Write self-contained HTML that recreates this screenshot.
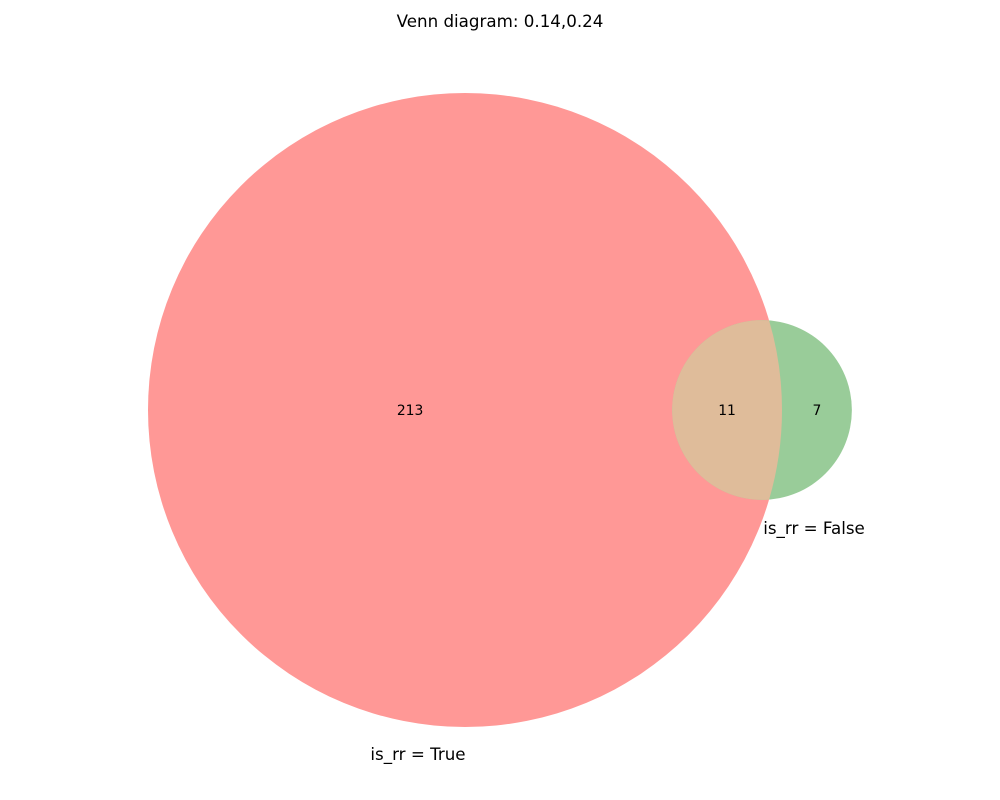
<!DOCTYPE html>
<html><head><meta charset="utf-8"><style>
html,body{margin:0;padding:0;background:#fff;}
svg{display:block;font-family:"DejaVu Sans","Liberation Sans",sans-serif;}
</style></head><body>
<svg id="chart" width="1000" height="800">
<text x="500" y="27" text-anchor="middle" font-size="16.7">Venn diagram: 0.14,0.24</text>
</svg>
<script>
const setNames = ["is_rr = True", "is_rr = False"];
const regionCounts = [213, 11, 7]; // A only, A&B, B only
const svg = document.getElementById('chart');
const NS = 'http://www.w3.org/2000/svg';
const sizeA = regionCounts[0] + regionCounts[1];
const sizeB = regionCounts[1] + regionCounts[2];
const rA = 317;
const unit = Math.PI * rA * rA / sizeA;
const rB = Math.sqrt(sizeB * unit / Math.PI);
function lens(d, r1, r2) {
  if (d >= r1 + r2) return 0;
  if (d <= Math.abs(r1 - r2)) return Math.PI * Math.min(r1, r2) ** 2;
  const a = r1*r1*Math.acos((d*d + r1*r1 - r2*r2)/(2*d*r1));
  const b = r2*r2*Math.acos((d*d + r2*r2 - r1*r1)/(2*d*r2));
  const c = 0.5*Math.sqrt((-d+r1+r2)*(d+r1-r2)*(d-r1+r2)*(d+r1+r2));
  return a + b - c;
}
const target = regionCounts[1] * unit;
let lo = rA - rB, hi = rA + rB;
for (let i = 0; i < 60; i++) { const m = (lo + hi) / 2; if (lens(m, rA, rB) > target) lo = m; else hi = m; }
const dist = (lo + hi) / 2;
const cy = 410;
const cxA = 148 + rA;
const cxB = cxA + dist;
function el(tag, attrs) { const e = document.createElementNS(NS, tag); for (const k in attrs) e.setAttribute(k, attrs[k]); svg.appendChild(e); return e; }
const cA = el('circle', {cx: cxA, cy: cy, r: rA, fill: '#ff9896'});


const cB = el('circle', {cx: cxB, cy: cy, r: rB, fill: '#99cc99'});


const xi = (dist*dist - rB*rB + rA*rA) / (2*dist);
const yi = Math.sqrt(rA*rA - xi*xi);
const px = cxA + xi;
const large = px > cxB ? 1 : 0;
const ov = el('path', {d: `M${px},${cy-yi} A${rA},${rA} 0 0 1 ${px},${cy+yi} A${rB},${rB} 0 ${large} 1 ${px},${cy-yi} Z`, fill: '#dfbc9a'});


const aRight = cxA + rA, bLeft = cxB - rB, bRight = cxB + rB;
const labelX = [(cxA - rA + bLeft) / 2, (bLeft + aRight) / 2, (aRight + bRight) / 2];
const regionNames = ['count-a-only', 'count-overlap', 'count-b-only'];
regionCounts.forEach((v, i) => {
  const t = el('text', {x: labelX[i], y: cy + 5, 'text-anchor': 'middle', 'font-size': 13.9});
  t.textContent = v;
  
  
});
const tA = el('text', {x: cxA - 47, y: cy + rA + 33, 'text-anchor': 'middle', 'font-size': 16.7});
tA.textContent = setNames[0];


const tB = el('text', {x: cxB + 52, y: cy + rB + 34, 'text-anchor': 'middle', 'font-size': 16.7});
tB.textContent = setNames[1];


</script>
</body></html>
